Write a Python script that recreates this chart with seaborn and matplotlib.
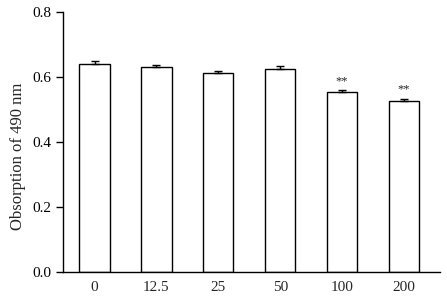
import numpy as np
import pandas as pd
import matplotlib
matplotlib.use("Agg")
import matplotlib.pyplot as plt
import seaborn as sns

# data
doses = ["0", "12.5", "25", "50", "100", "200"]
absorb = [0.642, 0.633, 0.613, 0.625, 0.554, 0.527]
sem = [0.009, 0.004, 0.006, 0.010, 0.007, 0.008]
marks = ["", "", "", "", "**", "**"]

df = pd.DataFrame({"dose": doses, "absorb": absorb})

sns.set_style("ticks")
plt.rcParams["font.family"] = ["Liberation Serif", "DejaVu Serif"]

fig = plt.figure(figsize=(4.47, 2.98), dpi=100)
ax = fig.add_axes([0.141, 0.0856, 0.843, 0.8726])

sns.barplot(data=df, x="dose", y="absorb", order=doses, color="white",
            edgecolor="black", linewidth=1.0, width=0.49, errorbar=None, ax=ax)

x = np.arange(len(doses))
ax.errorbar(x, absorb, yerr=[np.zeros(len(sem)), sem], fmt="none",
            ecolor="black", elinewidth=1.0, capsize=3, capthick=1.0)

for xi, y, e, m in zip(x, absorb, sem, marks):
    if m:
        ax.text(xi, y + e + 0.01, m, ha="center", va="bottom", fontsize=9)

ax.set_ylim(0, 0.8)
ax.set_xlim(-0.51, 5.58)
ax.set_yticks([0.0, 0.2, 0.4, 0.6, 0.8])
ax.set_yticklabels(["0.0", "0.2", "0.4", "0.6", "0.8"])
ax.set_xlabel("")
ax.set_ylabel("Obsorption of 490 nm", fontsize=12)
ax.yaxis.set_label_coords(-0.098, 0.448)
ax.tick_params(axis="y", direction="out", length=5, width=1, labelsize=11, colors="black")
ax.tick_params(axis="x", length=0, labelsize=11, pad=6)
for s in ["top", "right"]:
    ax.spines[s].set_visible(False)
for s in ["left", "bottom"]:
    ax.spines[s].set_linewidth(1.0)
    ax.spines[s].set_color("black")

fig.savefig("out.png", dpi=100)
